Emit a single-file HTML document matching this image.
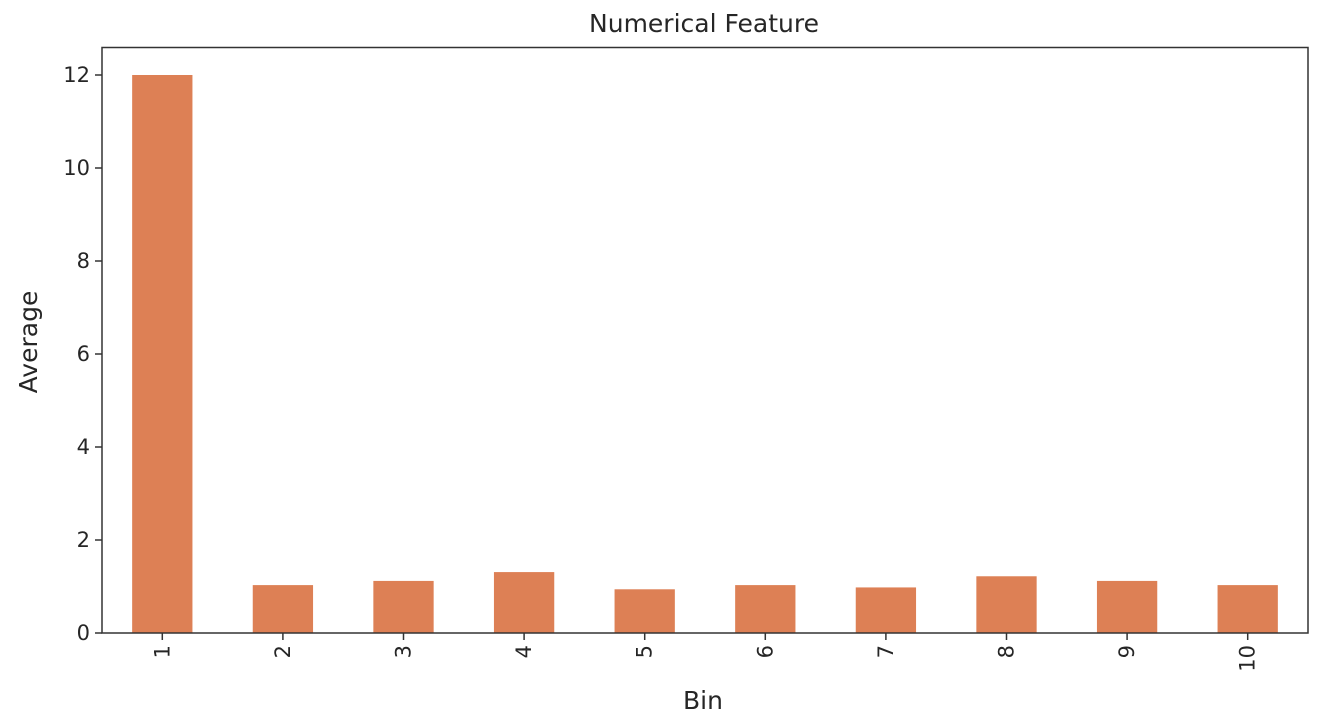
<!DOCTYPE html>
<html><head><meta charset="utf-8"><style>
body{margin:0;background:#fff;}
svg{display:block;font-family:"DejaVu Sans","Liberation Sans",sans-serif;}
</style></head><body>
<svg id="chart" width="1326" height="718" xmlns="http://www.w3.org/2000/svg">
<rect width="1326" height="718" fill="#fff"/>
<text x="704" y="32" font-size="25" text-anchor="middle" fill="#262626">Numerical Feature</text>
<g id="bars"></g>
<g id="yticks"></g>
<g id="xticks"></g>
<rect x="102" y="47.5" width="1206" height="585.5" fill="none" stroke="#333" stroke-width="1.5"/>
<text transform="translate(37,342) rotate(-90)" font-size="25" text-anchor="middle" fill="#262626">Average</text>
<text x="703" y="709" font-size="25" text-anchor="middle" fill="#262626">Bin</text>
</svg>
<script>
const categories = ["1","2","3","4","5","6","7","8","9","10"];
const values = [12.0, 1.03, 1.12, 1.31, 0.94, 1.03, 0.98, 1.22, 1.12, 1.03];
const yTickValues = [0, 2, 4, 6, 8, 10, 12];

const NS = "http://www.w3.org/2000/svg";
const left = 102, right = 1308, bottom = 633;
const pxPerUnit = 46.5;
const y = v => bottom - v * pxPerUnit;
const step = (right - left) / categories.length;
const x = i => left + step * (i + 0.5);
const bw = step * 0.5;

const bars = document.getElementById('bars');
values.forEach((v, i) => {
  const r = document.createElementNS(NS, 'rect');
  r.setAttribute('x', x(i) - bw / 2);
  r.setAttribute('y', y(v));
  r.setAttribute('width', bw);
  r.setAttribute('height', bottom - y(v));
  r.setAttribute('fill', '#dd8055');
  
  
  bars.appendChild(r);
});

const yt = document.getElementById('yticks');
yTickValues.forEach(t => {
  const l = document.createElementNS(NS, 'line');
  l.setAttribute('x1', left - 7); l.setAttribute('x2', left);
  l.setAttribute('y1', y(t)); l.setAttribute('y2', y(t));
  l.setAttribute('stroke', '#333'); l.setAttribute('stroke-width', '1.5');
  
  
  yt.appendChild(l);
  const tx = document.createElementNS(NS, 'text');
  tx.setAttribute('x', left - 12); tx.setAttribute('y', y(t) + 7);
  tx.setAttribute('font-size', '21'); tx.setAttribute('text-anchor', 'end');
  tx.setAttribute('fill', '#262626');
  tx.textContent = t;
  
  
  yt.appendChild(tx);
});

const xt = document.getElementById('xticks');
categories.forEach((c, i) => {
  const l = document.createElementNS(NS, 'line');
  l.setAttribute('x1', x(i)); l.setAttribute('x2', x(i));
  l.setAttribute('y1', bottom); l.setAttribute('y2', bottom + 7);
  l.setAttribute('stroke', '#333'); l.setAttribute('stroke-width', '1.5');
  
  
  xt.appendChild(l);
  const tx = document.createElementNS(NS, 'text');
  tx.setAttribute('transform', `translate(${x(i) + 7},${bottom + 12}) rotate(-90)`);
  tx.setAttribute('font-size', '21'); tx.setAttribute('text-anchor', 'end');
  tx.setAttribute('fill', '#262626');
  tx.textContent = c;
  
  
  xt.appendChild(tx);
});
</script>
</body></html>
